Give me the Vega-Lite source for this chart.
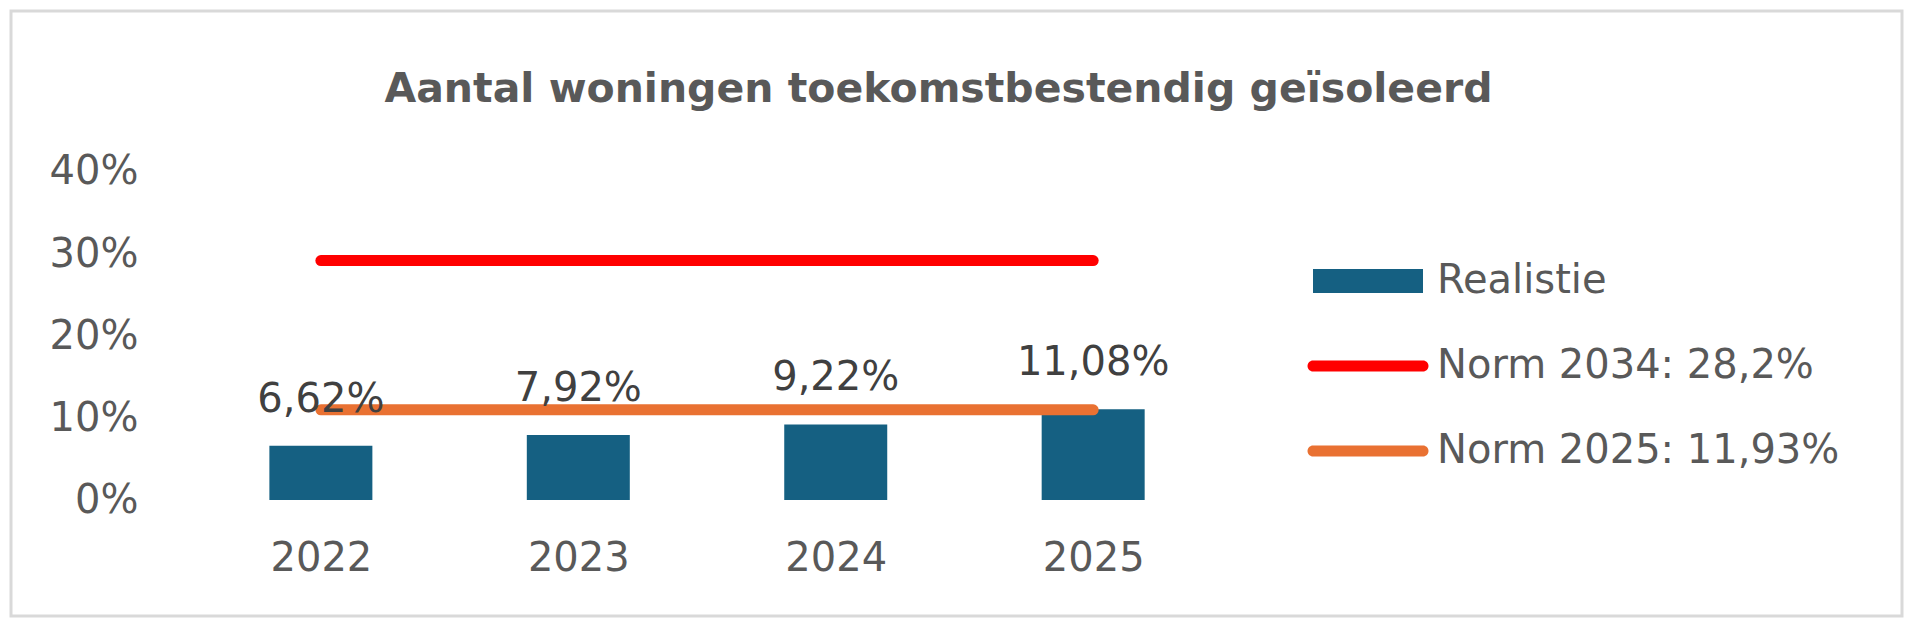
{
  "$schema": "https://vega.github.io/schema/vega-lite/v6.json",
  "width": 1891,
  "height": 605,
  "autosize": "none",
  "padding": {"left": 11, "top": 11, "right": 17, "bottom": 13},
  "background": "#ffffff",
  "title": {
    "text": "Aantal woningen toekomstbestendig geïsoleerd",
    "font": "DejaVu Sans",
    "fontWeight": "bold",
    "fontSize": 41,
    "color": "#595959",
    "anchor": "middle",
    "baseline": "alphabetic",
    "dx": -18,
    "offset": -132
  },
  "datasets": {
    "bars": [
      {"year": 2022, "value": 0.0662, "series": "Realistie"},
      {"year": 2023, "value": 0.0792, "series": "Realistie"},
      {"year": 2024, "value": 0.0922, "series": "Realistie"},
      {"year": 2025, "value": 0.1108, "series": "Realistie"}
    ],
    "norms": [
      {"year": 2022, "value": 0.292, "series": "Norm 2034: 28,2%"},
      {"year": 2025, "value": 0.292, "series": "Norm 2034: 28,2%"},
      {"year": 2022, "value": 0.11, "series": "Norm 2025: 11,93%"},
      {"year": 2025, "value": 0.11, "series": "Norm 2025: 11,93%"}
    ]
  },
  "encoding": {
    "x": {
      "field": "year",
      "type": "quantitative",
      "scale": {"domain": [2020.8157, 2028.1225], "nice": false, "zero": false},
      "axis": {
        "values": [2022, 2023, 2024, 2025],
        "format": "d",
        "title": null,
        "domain": false,
        "ticks": false,
        "tickSize": 0,
        "grid": false,
        "labelPadding": 0,
        "labelBaseline": "alphabetic",
        "labelFont": "DejaVu Sans",
        "labelFontSize": 40,
        "labelColor": "#595959",
        "labelFlush": false,
        "labelOverlap": false,
        "offset": -46
      }
    },
    "y": {
      "field": "value",
      "type": "quantitative",
      "scale": {"domain": [-0.14146, 0.59634], "nice": false, "zero": false},
      "axis": {
        "values": [0, 0.1, 0.2, 0.3, 0.4],
        "format": ".0%",
        "title": null,
        "domain": false,
        "ticks": false,
        "tickSize": 0,
        "grid": false,
        "labelPadding": 0,
        "labelFont": "DejaVu Sans",
        "labelFontSize": 40,
        "labelColor": "#595959",
        "labelFlush": false,
        "labelOverlap": false,
        "offset": -127
      }
    }
  },
  "layer": [
    {
      "data": {"values": [{}]},
      "mark": {"type": "rule", "color": "#d9d9d9", "strokeWidth": 3},
      "encoding": {
        "x": {"datum": 2021.5, "type": "quantitative"},
        "x2": {"datum": 2025.5},
        "y": {"datum": 0, "type": "quantitative"}
      }
    },
    {
      "data": {"name": "bars"},
      "mark": {"type": "bar", "width": 103},
      "encoding": {
        "y2": {"datum": 0},
        "color": {
          "field": "series",
          "type": "nominal",
          "scale": {
            "domain": ["Realistie", "Norm 2034: 28,2%", "Norm 2025: 11,93%"],
            "range": ["#156082", "#FF0000", "#E97132"]
          },
          "legend": {
            "orient": "none",
            "legendX": 1337,
            "legendY": 250,
            "title": null,
            "padding": 0,
            "labelFont": "DejaVu Sans",
            "labelFontSize": 40,
            "labelColor": "#595959",
            "labelOffset": 49,
            "labelLimit": 800,
            "symbolSize": 1600,
            "symbolStrokeWidth": 0,
            "rowPadding": 45,
            "encode": {
              "symbols": {
                "update": {
                  "shape": {"signal": "datum.value === 'Realistie' ? 'M-2.75,-0.6H2.75V0.6H-2.75Z' : 'M-2.75,-0.275H2.75A0.275,0.275 0 0 1 2.75,0.275H-2.75A0.275,0.275 0 0 1 -2.75,-0.275Z'"},
                  "fill": {"signal": "scale('color', datum.value)"},
                  "fillOpacity": {"value": 1},
                  "opacity": {"value": 1},
                  "strokeWidth": {"value": 0}
                }
              }
            }
          }
        }
      }
    },
    {
      "data": {"name": "norms"},
      "mark": {"type": "line", "strokeWidth": 11, "strokeCap": "round"},
      "encoding": {
        "color": {"field": "series", "type": "nominal"}
      }
    },
    {
      "data": {"name": "bars"},
      "mark": {
        "type": "text",
        "font": "DejaVu Sans",
        "fontSize": 40,
        "color": "#404040",
        "baseline": "alphabetic",
        "dy": -34
      },
      "encoding": {
        "text": {"field": "value", "type": "quantitative", "format": ".2%"}
      }
    }
  ],
  "config": {
    "locale": {
      "number": {"decimal": ",", "thousands": ".", "grouping": [3], "currency": ["€", ""]}
    },
    "view": {"stroke": "#d9d9d9", "strokeWidth": 3}
  }
}
